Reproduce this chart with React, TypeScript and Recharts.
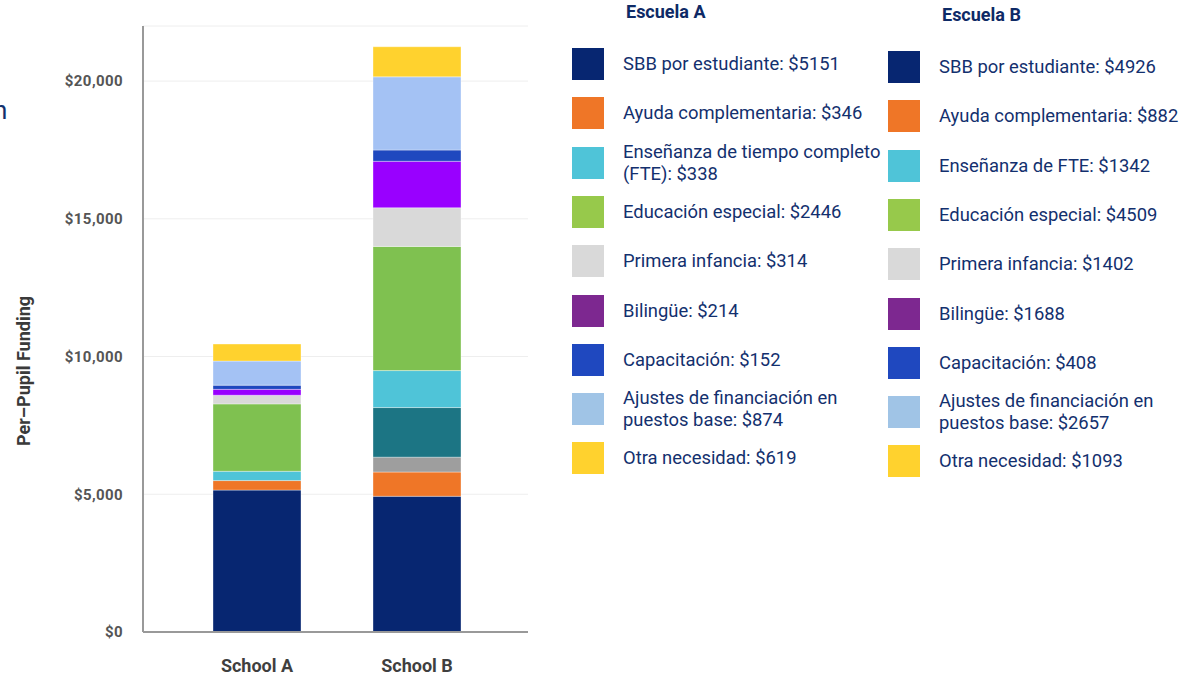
import { BarChart, Bar, XAxis, YAxis, CartesianGrid } from 'recharts'

const schools = ['School A', 'School B']

// stack order, bottom to top
const seriesKeys = ['sbb', 'ayuda', 'otroGris', 'otroTeal', 'fte', 'especial', 'infancia', 'bilingue', 'capacitacion', 'ajustes', 'otra']
const sbb = [5151, 4926]
const ayuda = [346, 882]
const otroGris = [0, 540]
const otroTeal = [0, 1800]
const fte = [338, 1342]
const especial = [2446, 4509]
const infancia = [314, 1402]
const bilingue = [214, 1688]
const capacitacion = [152, 408]
const ajustes = [874, 2657]
const otra = [619, 1093]

const barColors = ['#072671', '#EF7627', '#9E9E9E', '#1C7584', '#4FC4D8', '#7FC150', '#D9D9D9', '#9900FF', '#1F48BF', '#A4C2F4', '#FFD22E']

const yTicks = [0, 5000, 10000, 15000, 20000]

const legendTitles = ['Escuela A', 'Escuela B']
const legendColors = ['#072671', '#EF7627', '#4FC4D8', '#97C94B', '#D9D9D9', '#7D2890', '#1F48BF', '#A0C4E6', '#FFD22E']
const legendLabelsA = ['SBB por estudiante', 'Ayuda complementaria', 'Enseñanza de tiempo completo (FTE)', 'Educación especial', 'Primera infancia', 'Bilingüe', 'Capacitación', 'Ajustes de financiación en puestos base', 'Otra necesidad']
const legendLabelsB = ['SBB por estudiante', 'Ayuda complementaria', 'Enseñanza de FTE', 'Educación especial', 'Primera infancia', 'Bilingüe', 'Capacitación', 'Ajustes de financiación en puestos base', 'Otra necesidad']
const legendValuesA = [5151, 346, 338, 2446, 314, 214, 152, 874, 619]
const legendValuesB = [4926, 882, 1342, 4509, 1402, 1688, 408, 2657, 1093]

const seriesValues = [sbb, ayuda, otroGris, otroTeal, fte, especial, infancia, bilingue, capacitacion, ajustes, otra]

const chartData = schools.map((name, i) => {
  const row: Record<string, string | number> = { name }
  seriesKeys.forEach((k, j) => {
    row[k] = seriesValues[j][i]
  })
  return row
})

const font = 'Roboto, sans-serif'
const navy = '#13306E'

function LegendColumn({ title, labels, values, left, top, textWidth }: {
  title: string
  labels: string[]
  values: number[]
  left: number
  top: number
  textWidth: number
}) {
  return (
    <div style={{ position: 'absolute', left, top: 0 }}>
      <div style={{ position: 'absolute', left: 54, top: top - 47, fontWeight: 700, fontSize: 18, color: '#0E2A66', whiteSpace: 'nowrap' }}>
        {title}
      </div>
      {labels.map((label, i) => (
        <div key={label} style={{ position: 'absolute', left: 0, top: top + i * 49.3, height: 32, display: 'flex', alignItems: 'center' }}>
          <div style={{ width: 32, height: 32, background: legendColors[i], flexShrink: 0 }} />
          <div style={{ marginLeft: 19, width: textWidth, fontSize: 18.4, lineHeight: '22px', color: navy }}>
            {label}: ${values[i]}
          </div>
        </div>
      ))}
    </div>
  )
}

export default function App() {
  return (
    <div style={{ position: 'absolute', left: 0, top: 0, width: 1189, height: 675, fontFamily: font, background: '#fff', overflow: 'hidden' }}>
      <div style={{ position: 'absolute', left: -7, top: 95, fontSize: 26, color: navy }}>n</div>
      <div
        style={{
          position: 'absolute', left: 23, top: 371, transform: 'translate(-50%, -50%) rotate(-90deg)',
          fontSize: 18, fontWeight: 700, color: '#3A3A3A', whiteSpace: 'nowrap',
        }}
      >
        Per–Pupil Funding
      </div>
      <div style={{ position: 'absolute', left: 0, top: 0 }}>
        <BarChart width={540} height={675} data={chartData} margin={{ top: 26, right: 12, left: 0, bottom: 3 }} barSize={88}>
          <CartesianGrid vertical={false} stroke="#EEEEEE" />
          <XAxis
            dataKey="name"
            height={40}
            padding={{ left: 34, right: 31 }}
            axisLine={{ stroke: '#999', strokeWidth: 2 }}
            tickLine={false}
            tickSize={0}
            tickMargin={27}
            tick={{ fontSize: 18, fontWeight: 700, fill: '#3F3F3F', fontFamily: font }}
          />
          <YAxis
            width={143}
            domain={[0, 22000]}
            ticks={yTicks}
            axisLine={{ stroke: '#999', strokeWidth: 2 }}
            tickLine={false}
            tickSize={0}
            tickMargin={20}
            tick={{ fontSize: 15, fontWeight: 700, fill: '#555', fontFamily: font, letterSpacing: 0.4 }}
            tickFormatter={(v: number) => `$${v.toLocaleString('en-US')}`}
          />
          {seriesKeys.map((k, j) => (
            <Bar
              key={k}
              dataKey={k}
              stackId="a"
              fill={barColors[j]}
              stroke="rgba(255,255,255,0.35)"
              strokeWidth={1}
              isAnimationActive={false}
            />
          ))}
        </BarChart>
      </div>
      <LegendColumn title={legendTitles[0]} labels={legendLabelsA} values={legendValuesA} left={572} top={48} textWidth={268} />
      <LegendColumn title={legendTitles[1]} labels={legendLabelsB} values={legendValuesB} left={888} top={51} textWidth={250} />
    </div>
  )
}
